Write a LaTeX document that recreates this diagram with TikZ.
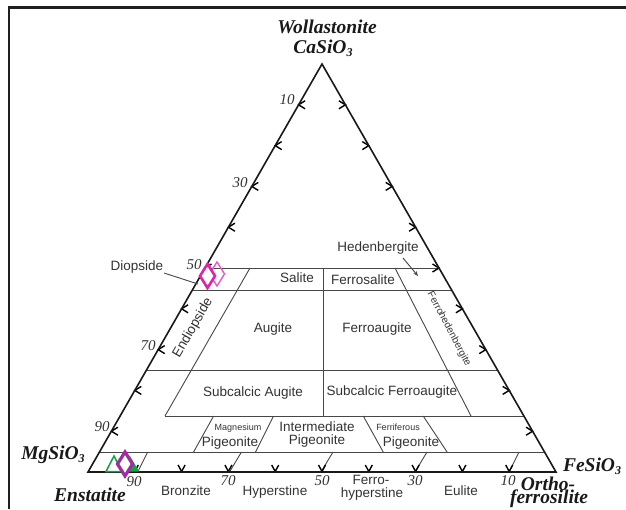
\documentclass[tikz,border=0pt]{standalone}
\usepackage{fontspec}
\setmainfont{Liberation Serif}
\newfontfamily\sansf{Liberation Sans}
\usetikzlibrary{arrows.meta}
\definecolor{mag}{RGB}{215,40,170}
\definecolor{magl}{RGB}{230,90,200}
\definecolor{purp}{RGB}{160,45,160}
\definecolor{grn}{RGB}{20,160,70}
\begin{document}
\begin{tikzpicture}[x=1pt,y=-1pt,
  big/.style={font=\fontsize{19.5}{20}\selectfont\bfseries\itshape, inner sep=0pt, text=black!90},
  num/.style={font=\fontsize{15}{16}\selectfont\itshape, inner sep=0pt, text=black!80},
  lab/.style={font=\sansf\fontsize{13.5}{15}\selectfont, inner sep=0pt, text=black!80},
  smalllab/.style={font=\sansf\fontsize{9}{10}\selectfont, inner sep=0pt, text=black!80},
  rim/.style={line width=1.6pt, black!90, line join=miter},
  gridline/.style={line width=0.9pt, black!72},
  tk/.style={line width=1.4pt, black},
  framebar/.style={line width=2.4pt, black!88}
]
\useasboundingbox (0,0) rectangle (626,509);
\fill[white] (0,0) rectangle (626,509);
% frame (only top and left visible)
\draw[framebar] (9,509) -- (9,7.5) -- (626,7.5);

% triangle vertices
\coordinate (A) at (322,64);
\coordinate (B) at (88,472);
\coordinate (C) at (556,472);

% horizontal lines
\draw[gridline] (205,268) -- (439,268);
\draw[gridline] (192.4,290) -- (451.6,290);
\draw[gridline] (146.5,370) -- (497.5,370);
\draw[gridline] (165,416) -- (523.9,416);
\draw[gridline] (99.5,452) -- (544.5,452);

% inner boundaries
\draw[gridline] (250,268) -- (165,416);
\draw[gridline] (323.5,268) -- (323.5,416);
\draw[gridline] (395,268) -- (471,416);
\draw[gridline] (213.6,416) -- (193.6,452);
\draw[gridline] (273.5,416) -- (255.5,452);
\draw[gridline] (363.3,416) -- (383.2,452);
\draw[gridline] (423.2,416) -- (447.1,452);
\foreach \xt/\xb in {147.7/137.7, 241.5/229.5, 333/321, 427/415, 519/509}{
  \draw[gridline] (\xt,452) -- (\xb,472);
}

% ticks
\foreach \k in {1,...,9}{
  \pgfmathsetmacro\yy{472-40.8*\k}
  \pgfmathsetmacro\xl{88+(472-\yy)*0.5735}
  \pgfmathsetmacro\xr{556-(472-\yy)*0.5735}
  \pgfmathsetmacro\xb{88+46.8*\k}
  \draw[tk] (\xl+6.5,\yy-4) -- (\xl,\yy) -- (\xl+6.5,\yy+4);
  \draw[tk] (\xr-6.5,\yy-4) -- (\xr,\yy) -- (\xr-6.5,\yy+4);
  \draw[tk] (\xb-3.5,465) -- (\xb,471.5) -- (\xb+3.5,465);
}

% main triangle
\draw[rim] (A) -- (B) -- (C) -- cycle;

% corner labels
\node[big] (wo) at (327,27) {Wollastonite};
\node[big] (ca) at (323,48) {CaSiO\raisebox{-0.35ex}{\fontsize{12}{12}\selectfont 3}};
\node[big] (mg) at (53,455) {MgSiO\raisebox{-0.35ex}{\fontsize{12}{12}\selectfont 3}};
\node[big] (en) at (90,495) {Enstatite};
\node[big] (fe) at (592,466) {FeSiO\raisebox{-0.35ex}{\fontsize{12}{12}\selectfont 3}};
\node[big] (or) at (548,484) {Ortho-};
\node[big] (fs) at (549,499) {ferrosilite};

% side numbers
\node[num] (l10) at (287,100) {10};
\node[num] (l30) at (240,183) {30};
\node[num] (l50) at (194,265) {50};
\node[num] (l70) at (148,346) {70};
\node[num] (l90) at (102,427) {90};
\node[num] (b90) at (134,482) {90};
\node[num] (b70) at (228,481) {70};
\node[num] (b50) at (322,481) {50};
\node[num] (b30) at (415,481) {30};
\node[num] (b10) at (508,481) {10};

% field labels
\node[lab] (hed) at (378,248) {Hedenbergite};
\coordinate (hedtip) at (418,276);
\draw[gridline, -{Stealth[length=5pt,width=4pt]}] (403,258) -- (hedtip);
\node[lab] (sal) at (297,278) {Salite};
\node[lab] (fsal) at (363,280) {Ferrosalite};
\node[lab] (aug) at (273,329) {Augite};
\node[lab] (faug) at (377,329) {Ferroaugite};
\node[lab] (saug) at (253,393) {Subcalcic Augite};
\node[lab] (sfaug) at (392,392) {Subcalcic Ferroaugite};
\node[smalllab] (mgn) at (238,428) {Magnesium};
\node[lab] (int) at (317,427) {Intermediate};
\node[smalllab] (ferri) at (398,427) {Ferriferous};
\node[lab] (pig1) at (230,443) {Pigeonite};
\node[lab] (pig2) at (317,441) {Pigeonite};
\node[lab] (pig3) at (411,443) {Pigeonite};
\node[lab, rotate=60] (endi) at (193,328) {Endiopside};
\node[font=\sansf\fontsize{10}{11}\selectfont, inner sep=0pt, text=black!80, rotate=-62] (fhed) at (449,329) {Ferrohedenbergite};
\node[lab] (diop) at (137,267) {Diopside};
\coordinate (diopend) at (198,284);
\draw[gridline] (164,273) -- (diopend);
\node[lab] (bron) at (186,491) {Bronzite};
\node[lab] (hyp) at (275,492) {Hyperstine};
\node[lab] (fhyp1) at (371,480) {Ferro-};
\node[lab] (fhyp2) at (372,494) {hyperstine};
\node[lab] (eul) at (461,491) {Eulite};

% data markers
\draw[magl, line width=1.4pt] (217,262) -- (224.5,274) -- (217,286) -- (209.5,274) -- cycle;
\draw[mag, line width=2.6pt, fill=white] (207.5,264) -- (215,276) -- (207.5,288) -- (200,276) -- cycle;
\fill[grn] (121,471.5) -- (130,456) -- (139,471.5) -- cycle;
\draw[grn, line width=1.5pt] (106,471.5) -- (114,456) -- (122,471.5) -- cycle;
\draw[purp, line width=3.2pt, fill=white] (125,452) -- (132.5,464) -- (125,476) -- (117.5,464) -- cycle;
\end{tikzpicture}
\end{document}
